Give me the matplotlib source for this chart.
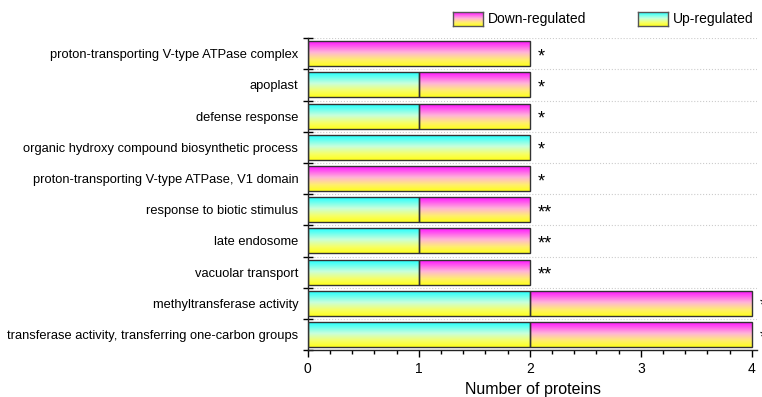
import matplotlib
matplotlib.use("Agg")
import matplotlib.pyplot as plt
import numpy as np
from matplotlib.colors import LinearSegmentedColormap
from matplotlib.ticker import MultipleLocator

plt.rcParams["font.family"] = ["Liberation Sans", "DejaVu Sans"]

terms = [
    "proton-transporting V-type ATPase complex",
    "apoplast",
    "defense response",
    "organic hydroxy compound biosynthetic process",
    "proton-transporting V-type ATPase, V1 domain",
    "response to biotic stimulus",
    "late endosome",
    "vacuolar transport",
    "methyltransferase activity",
    "transferase activity, transferring one-carbon groups",
]
up = [0, 1, 1, 2, 0, 1, 1, 1, 2, 2]
down = [2, 1, 1, 0, 2, 1, 1, 1, 2, 2]
stars = ["*", "*", "*", "*", "*", "**", "**", "**", "*", "*"]

# bottom -> top colour ramps of the bar fills
up_cmap = LinearSegmentedColormap.from_list(
    "up", [(0, "#ffff1e"), (0.25, "#f6ff6a"), (0.55, "#c8ffdc"), (1, "#22ffff")])
down_cmap = LinearSegmentedColormap.from_list(
    "down", [(0, "#ffff1e"), (0.25, "#ffee70"), (0.55, "#ffb4d8"), (1, "#ff14ff")])
grad = np.linspace(0, 1, 64).reshape(-1, 1)

fig = plt.figure(figsize=(7.62, 3.97), dpi=100)
ax = fig.add_axes([0.404, 0.118, 0.590, 0.786])

n = len(terms)
ypos = np.arange(n)[::-1]
h = 0.8


def gradient_bars(left, width, cmap):
    bars = ax.barh(ypos, width, left=left, height=h, facecolor="none",
                   edgecolor="#333333", linewidth=1.0, zorder=3)
    for rect in bars:
        if rect.get_width() <= 0:
            rect.set_visible(False)
            continue
        x0 = rect.get_x()
        y0 = rect.get_y()
        im = ax.imshow(grad, cmap=cmap, origin="lower", aspect="auto",
                       extent=(x0, x0 + rect.get_width(), y0, y0 + rect.get_height()),
                       zorder=2)
        im.set_clip_path(rect)


gradient_bars(np.zeros(n), up, up_cmap)
gradient_bars(np.array(up), down, down_cmap)

for y, u, d, s in zip(ypos, up, down, stars):
    ax.text(u + d + 0.07, y - 0.1, s, ha="left", va="center",
            fontsize=13, clip_on=False)

ax.set_xlim(0, 4.05)
ax.set_ylim(-0.5, n - 0.5)
ax.set_yticks(ypos)
ax.set_yticklabels(terms, fontsize=9.3)
ax.set_yticks(np.arange(n + 1) - 0.5, minor=True)
ax.tick_params(axis="y", which="major", length=0, pad=7)
ax.tick_params(axis="y", which="minor", direction="inout", length=7, width=1)
ax.grid(axis="y", which="minor", linestyle=":", color="#cccccc", linewidth=0.8)
ax.set_axisbelow(True)

ax.xaxis.set_major_locator(MultipleLocator(1))
ax.xaxis.set_minor_locator(MultipleLocator(0.2))
ax.tick_params(axis="x", which="major", direction="out", length=5, width=1, labelsize=10)
ax.tick_params(axis="x", which="minor", direction="out", length=3, width=1)
ax.set_xlabel("Number of proteins", fontsize=11.5, labelpad=4)

for side in ["top", "right"]:
    ax.spines[side].set_visible(False)
for side in ["left", "bottom"]:
    ax.spines[side].set_linewidth(1.0)
    ax.spines[side].set_color("#222222")

# legend swatches drawn as small gradient panels
W, H = 762.0, 397.0
for px, label, cmap in [(453, "Down-regulated", down_cmap), (638, "Up-regulated", up_cmap)]:
    lax = fig.add_axes([px / W, 1 - 26 / H, 30 / W, 14 / H])
    lax.imshow(grad, cmap=cmap, origin="lower", aspect="auto")
    lax.set_xticks([])
    lax.set_yticks([])
    for sp in lax.spines.values():
        sp.set_color("#555555")
        sp.set_linewidth(1.0)
    fig.text((px + 35) / W, 1 - 19.5 / H, label, fontsize=10, va="center", ha="left")

fig.savefig("out.png", dpi=100)
